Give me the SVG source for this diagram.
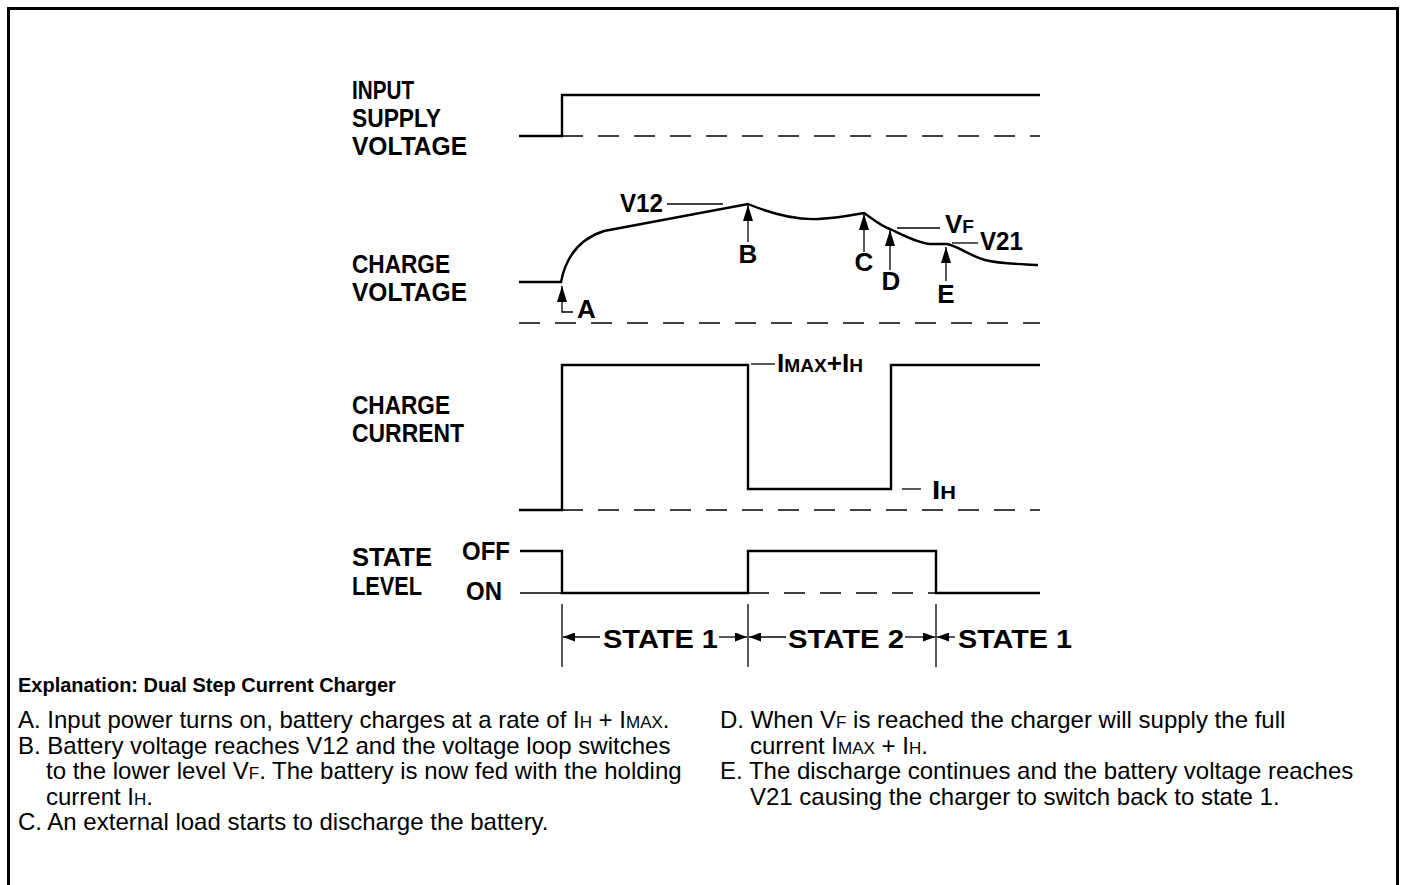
<svg xmlns="http://www.w3.org/2000/svg" width="1401" height="885" viewBox="0 0 1401 885">
<defs>
<style>
.sig{fill:none;stroke:#000;stroke-width:2.4;stroke-linejoin:miter}
.dash{fill:none;stroke:#000;stroke-width:1.3;stroke-dasharray:21 15}
.thin{fill:none;stroke:#000;stroke-width:1.3}
.ptr{fill:none;stroke:#000;stroke-width:1.3;marker-end:url(#head)}
.sarr{fill:none;stroke:#000;stroke-width:1.3;marker-end:url(#shead)}
.lbl{font-family:"Liberation Sans",Arial,sans-serif;font-weight:bold;font-size:26px;fill:#000}
.txt{font-family:"Liberation Sans",Arial,sans-serif;font-size:24px;fill:#000}
.hd{font-family:"Liberation Sans",Arial,sans-serif;font-size:20px;font-weight:bold;fill:#000}
</style>
<marker id="head" markerUnits="userSpaceOnUse" markerWidth="16" markerHeight="10" refX="16" refY="5" orient="auto">
<path d="M0,0 L16,5 L0,10 z" fill="#000"/>
</marker>
<marker id="shead" markerUnits="userSpaceOnUse" markerWidth="12" markerHeight="9" refX="12" refY="4.5" orient="auto">
<path d="M0,0 L12,4.5 L0,9 z" fill="#000"/>
</marker>
</defs>
<rect width="1401" height="885" fill="#fff"/>
<path d="M8.5,886 V8.5 H1397.5 V886" fill="none" stroke="#000" stroke-width="3"/>

<g id="input-supply">
<text class="lbl" x="352" y="99" textLength="62" lengthAdjust="spacingAndGlyphs">INPUT</text>
<text class="lbl" x="352" y="127" textLength="89" lengthAdjust="spacingAndGlyphs">SUPPLY</text>
<text class="lbl" x="352" y="155" textLength="115" lengthAdjust="spacingAndGlyphs">VOLTAGE</text>
<path class="sig" d="M519,136 H562 V95 H1040"/>
<path class="dash" d="M562,136 H1040"/>
</g>

<g id="charge-voltage">
<text class="lbl" x="352" y="273" textLength="98" lengthAdjust="spacingAndGlyphs">CHARGE</text>
<text class="lbl" x="352" y="301" textLength="115" lengthAdjust="spacingAndGlyphs">VOLTAGE</text>
<path class="sig" d="M519,282 H561 C566,256 579,239 604,231 L748,204 C772,214 796,220 818,219 C838,218 853,215 864,213 C873,219 881,226 890,229 C905,236 918,243 930,244 L947,244 C960,247 970,256 985,260 C1000,264 1020,264 1038,265"/>
<path class="dash" d="M519,323 H1040"/>
<text class="lbl" x="620" y="212" textLength="43" lengthAdjust="spacingAndGlyphs">V12</text>
<path class="thin" d="M667,204 H723"/>
<text class="lbl" x="748" y="263" text-anchor="middle">B</text>
<text class="lbl" x="864" y="271" text-anchor="middle">C</text>
<text class="lbl" x="891" y="290" text-anchor="middle">D</text>
<text class="lbl" x="946" y="303" text-anchor="middle">E</text>
<text class="lbl" x="577" y="318">A</text>
<path class="thin" d="M897,228 H940"/>
<text class="lbl" x="945" y="233">V<tspan font-size="19">F</tspan></text>
<path class="thin" d="M952,243 H978"/>
<text class="lbl" x="980" y="250" textLength="43" lengthAdjust="spacingAndGlyphs">V21</text>
</g>

<g id="charge-current">
<text class="lbl" x="352" y="414" textLength="98" lengthAdjust="spacingAndGlyphs">CHARGE</text>
<text class="lbl" x="352" y="442" textLength="112" lengthAdjust="spacingAndGlyphs">CURRENT</text>
<path class="sig" d="M519,510 H562 V365 H748 V489 H891 V365 H1040"/>
<path class="dash" d="M562,510 H1040"/>
<path class="thin" d="M751,364 H775"/>
<text class="lbl" x="777" y="372" textLength="86" lengthAdjust="spacingAndGlyphs">I<tspan font-size="19">MAX</tspan>+I<tspan font-size="19">H</tspan></text>
<path class="thin" d="M902,489 H921"/>
<text class="lbl" x="932" y="499" textLength="24" lengthAdjust="spacingAndGlyphs">I<tspan font-size="19">H</tspan></text>
</g>

<g id="state-level">
<text class="lbl" x="352" y="566" textLength="80" lengthAdjust="spacingAndGlyphs">STATE</text>
<text class="lbl" x="352" y="595" textLength="70" lengthAdjust="spacingAndGlyphs">LEVEL</text>
<text class="lbl" x="462" y="560" textLength="48" lengthAdjust="spacingAndGlyphs">OFF</text>
<text class="lbl" x="466" y="600" textLength="36" lengthAdjust="spacingAndGlyphs">ON</text>
<path class="thin" d="M520,593 H562"/>
<path class="sig" d="M520,551 H562 V593 H748 V551 H936 V593 H1040"/>
<path class="dash" d="M748,593 H936"/>
</g>

<g id="state-bands">
<path class="thin" d="M562,604 V667 M748,604 V667 M936,604 V667"/>
<text class="lbl" x="603" y="648" textLength="115" lengthAdjust="spacingAndGlyphs">STATE 1</text>
<text class="lbl" x="788" y="648" textLength="116" lengthAdjust="spacingAndGlyphs">STATE 2</text>
<text class="lbl" x="958" y="648" textLength="114" lengthAdjust="spacingAndGlyphs">STATE 1</text>
</g>

<g id="connectors">
<path class="ptr" d="M748,242 V205"/>
<path class="ptr" d="M864,252 V214"/>
<path class="ptr" d="M890,270 V230"/>
<path class="ptr" d="M946,281 V247"/>
<path class="ptr" d="M573,312 H562 V286"/>
<path class="sarr" d="M600,637 H563"/>
<path class="sarr" d="M719,637 H747"/>
<path class="sarr" d="M786,637 H749"/>
<path class="sarr" d="M905,637 H935"/>
<path class="sarr" d="M955,637 H937"/>
</g>

<g id="explanation">
<text class="hd" x="18" y="692">Explanation: Dual Step Current Charger</text>
<text class="txt" x="18" y="728">A. Input power turns on, battery charges at a rate of I<tspan font-size="17">H</tspan> + I<tspan font-size="17">MAX</tspan>.</text>
<text class="txt" x="18" y="754">B. Battery voltage reaches V12 and the voltage loop switches</text>
<text class="txt" x="46" y="779">to the lower level V<tspan font-size="17">F</tspan>. The battery is now fed with the holding</text>
<text class="txt" x="46" y="805">current I<tspan font-size="17">H</tspan>.</text>
<text class="txt" x="18" y="830">C. An external load starts to discharge the battery.</text>
<text class="txt" x="720" y="728">D. When V<tspan font-size="17">F</tspan> is reached the charger will supply the full</text>
<text class="txt" x="750" y="754">current I<tspan font-size="17">MAX</tspan> + I<tspan font-size="17">H</tspan>.</text>
<text class="txt" x="720" y="779">E. The discharge continues and the battery voltage reaches</text>
<text class="txt" x="750" y="805">V21 causing the charger to switch back to state 1.</text>
</g>
</svg>
